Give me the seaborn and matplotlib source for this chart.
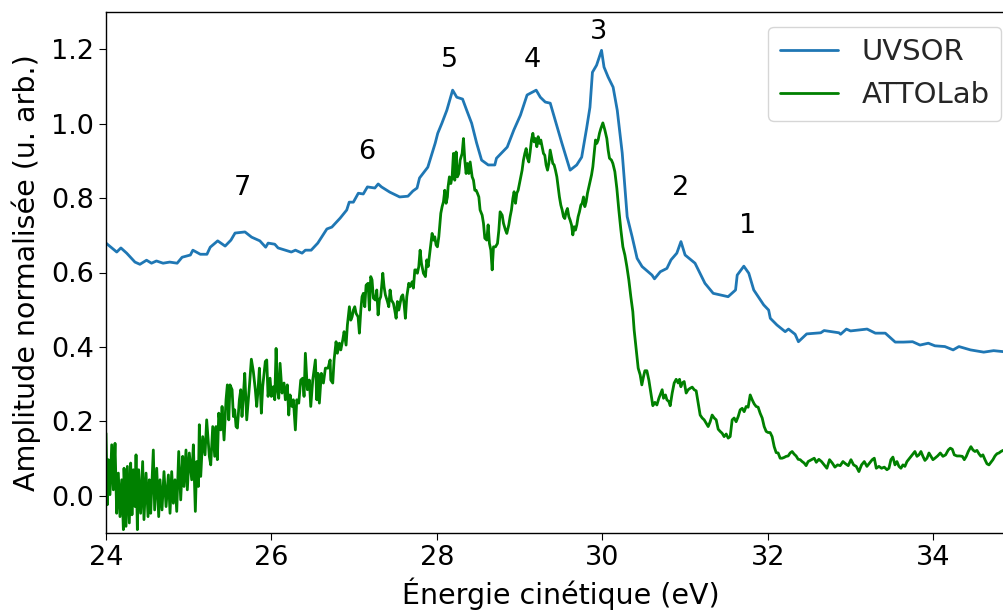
import pandas as pd
import matplotlib
matplotlib.use('Agg')
import matplotlib.pyplot as plt
import seaborn as sns

# UVSOR spectrum
uvsor_ev = [24.00, 24.13, 24.18, 24.25, 24.35, 24.41, 24.49, 24.55, 24.61, 24.69,
            24.77, 24.86, 24.92, 25.02, 25.05, 25.14, 25.22, 25.26, 25.35, 25.44,
            25.51, 25.56, 25.68, 25.76, 25.86, 25.93, 25.96, 26.04, 26.08, 26.24,
            26.29, 26.37, 26.41, 26.48, 26.56, 26.67, 26.73, 26.83, 26.91, 26.94,
            26.99, 27.05, 27.11, 27.16, 27.25, 27.29, 27.33, 27.43, 27.55, 27.65,
            27.71, 27.76, 27.79, 27.89, 27.98, 28.01, 28.06, 28.12, 28.19, 28.24,
            28.31, 28.36, 28.42, 28.48, 28.54, 28.62, 28.70, 28.72, 28.85, 28.93,
            29.01, 29.09, 29.20, 29.25, 29.31, 29.37, 29.43, 29.51, 29.61, 29.69,
            29.75, 29.81, 29.85, 29.88, 29.93, 29.99, 30.02, 30.07, 30.13, 30.18,
            30.24, 30.30, 30.36, 30.42, 30.48, 30.60, 30.63, 30.70, 30.78, 30.83,
            30.90, 30.95, 31.00, 31.12, 31.24, 31.34, 31.52, 31.61, 31.63, 31.71,
            31.77, 31.83, 31.95, 32.01, 32.03, 32.11, 32.21, 32.25, 32.33, 32.37,
            32.47, 32.64, 32.68, 32.86, 32.88, 32.95, 33.00, 33.20, 33.30, 33.42,
            33.54, 33.64, 33.75, 33.84, 33.94, 34.02, 34.14, 34.24, 34.31, 34.45,
            34.61, 34.73, 34.86]
uvsor_amp = [0.679, 0.655, 0.666, 0.652, 0.628, 0.622, 0.633, 0.625, 0.631, 0.625,
             0.628, 0.625, 0.641, 0.647, 0.660, 0.649, 0.649, 0.668, 0.685, 0.671,
             0.687, 0.706, 0.709, 0.695, 0.685, 0.668, 0.679, 0.676, 0.666, 0.655,
             0.660, 0.652, 0.660, 0.660, 0.679, 0.717, 0.722, 0.746, 0.768, 0.789,
             0.789, 0.813, 0.811, 0.830, 0.827, 0.838, 0.830, 0.816, 0.803, 0.805,
             0.819, 0.827, 0.854, 0.883, 0.948, 0.974, 1.001, 1.036, 1.090, 1.071,
             1.066, 1.036, 1.001, 0.948, 0.902, 0.889, 0.889, 0.907, 0.937, 0.983,
             1.023, 1.077, 1.090, 1.071, 1.058, 1.055, 1.009, 0.948, 0.875, 0.889,
             0.910, 0.988, 1.044, 1.138, 1.157, 1.197, 1.152, 1.125, 1.098, 1.036,
             0.921, 0.750, 0.696, 0.638, 0.616, 0.593, 0.583, 0.602, 0.611, 0.634,
             0.652, 0.683, 0.647, 0.625, 0.571, 0.544, 0.535, 0.553, 0.593, 0.617,
             0.598, 0.553, 0.513, 0.499, 0.477, 0.459, 0.441, 0.448, 0.434, 0.414,
             0.435, 0.438, 0.444, 0.438, 0.434, 0.448, 0.443, 0.448, 0.437, 0.437,
             0.413, 0.413, 0.414, 0.405, 0.410, 0.403, 0.401, 0.392, 0.401, 0.392,
             0.386, 0.390, 0.387]

# ATTOLab spectrum
attolab_ev = [
    24.000, 24.016, 24.028, 24.048, 24.069, 24.089, 24.109, 24.129, 24.149, 24.169,
    24.190, 24.210, 24.218, 24.242, 24.258, 24.282, 24.298, 24.314, 24.330, 24.351,
    24.363, 24.379, 24.395, 24.419, 24.443, 24.459, 24.484, 24.508, 24.524, 24.540,
    24.572, 24.588, 24.613, 24.637, 24.653, 24.677, 24.701, 24.726, 24.754, 24.774,
    24.794, 24.814, 24.834, 24.855, 24.879, 24.903, 24.927, 24.943, 24.967, 24.983,
    25.007, 25.036, 25.056, 25.080, 25.096, 25.116, 25.128, 25.145, 25.169, 25.197,
    25.217, 25.249,
    25.266, 25.290, 25.314, 25.330, 25.346, 25.363, 25.387, 25.403, 25.427, 25.451,
    25.467, 25.484, 25.499, 25.524, 25.540, 25.556, 25.572, 25.588, 25.612, 25.629,
    25.644, 25.660, 25.677, 25.701, 25.733, 25.757, 25.781, 25.805, 25.822, 25.838,
    25.854, 25.878, 25.894, 25.926, 25.943, 25.959, 25.983, 25.999, 26.023, 26.040,
    26.056, 26.072, 26.088, 26.104, 26.128, 26.152, 26.168, 26.192, 26.209, 26.225,
    26.249, 26.265, 26.289, 26.306, 26.330, 26.354, 26.378, 26.394, 26.410, 26.434,
    26.458, 26.475, 26.499, 26.531, 26.548, 26.563, 26.579, 26.603, 26.628, 26.652,
    26.684, 26.709,
    26.717, 26.741, 26.757, 26.781, 26.797, 26.821, 26.838, 26.862, 26.878, 26.902,
    26.918, 26.942, 26.959, 26.975, 26.990, 27.007, 27.023, 27.047, 27.063, 27.080,
    27.095, 27.111, 27.128, 27.144, 27.168, 27.184, 27.200, 27.216, 27.232, 27.256,
    27.273, 27.289, 27.305, 27.321, 27.346, 27.361, 27.377, 27.402, 27.418, 27.434,
    27.450, 27.474, 27.490, 27.507, 27.522, 27.539, 27.555, 27.571, 27.587, 27.603,
    27.619, 27.636, 27.660, 27.676, 27.700, 27.716, 27.733, 27.748, 27.764, 27.781,
    27.797, 27.813, 27.837, 27.861, 27.878, 27.894, 27.918, 27.942, 27.958, 27.974,
    27.990, 28.006, 28.023, 28.047, 28.063, 28.079, 28.095, 28.111, 28.127,
    28.135, 28.151, 28.168, 28.184, 28.200, 28.216, 28.232, 28.248, 28.265, 28.281,
    28.305, 28.321, 28.337, 28.353, 28.369, 28.386, 28.402, 28.426, 28.442, 28.458,
    28.474, 28.490, 28.507, 28.522, 28.547, 28.563, 28.579, 28.603, 28.619, 28.635,
    28.652, 28.668, 28.684, 28.708, 28.732, 28.749, 28.764, 28.789, 28.805, 28.829,
    28.845, 28.869, 28.885, 28.901, 28.918, 28.933, 28.950, 28.966, 28.982, 28.998,
    29.015, 29.030, 29.046, 29.063, 29.079, 29.095, 29.111, 29.127, 29.143, 29.160,
    29.175, 29.191, 29.208, 29.224, 29.240, 29.256, 29.272, 29.288, 29.304, 29.320,
    29.337, 29.353, 29.369, 29.385, 29.401, 29.417, 29.433, 29.450, 29.465, 29.481,
    29.498, 29.514, 29.530, 29.546, 29.562, 29.578, 29.595, 29.610, 29.627, 29.643,
    29.659, 29.675, 29.691, 29.707, 29.723, 29.740, 29.756, 29.772, 29.788, 29.804,
    29.820, 29.837, 29.852, 29.869, 29.885, 29.901, 29.917, 29.933, 29.949, 29.965,
    29.982, 30.006, 30.030, 30.054, 30.070, 30.086, 30.110, 30.127, 30.151, 30.175,
    30.199, 30.224, 30.248, 30.272, 30.296, 30.320,
    30.344, 30.368, 30.384, 30.409, 30.433, 30.457, 30.477, 30.497, 30.514, 30.538,
    30.562, 30.586, 30.610, 30.635, 30.659, 30.683, 30.707, 30.723, 30.739, 30.763,
    30.780, 30.804, 30.820, 30.844, 30.868, 30.892, 30.917, 30.933, 30.949, 30.965,
    30.989, 31.013, 31.037, 31.062, 31.086, 31.110, 31.134, 31.158, 31.182, 31.207,
    31.231, 31.255, 31.279, 31.303, 31.327, 31.352, 31.376, 31.400, 31.424, 31.448,
    31.472, 31.497, 31.521, 31.545, 31.569, 31.593, 31.617, 31.642, 31.666, 31.690,
    31.714, 31.738, 31.762, 31.787, 31.811, 31.835, 31.859, 31.883, 31.907, 31.932,
    31.956, 31.980, 32.004, 32.028, 32.052, 32.077, 32.101, 32.125, 32.149, 32.173,
    32.197, 32.222, 32.246, 32.270, 32.294, 32.318, 32.342, 32.367, 32.391, 32.415,
    32.439, 32.463, 32.487, 32.511,
    32.561, 32.586, 32.617, 32.649, 32.682, 32.714, 32.746, 32.779, 32.811, 32.843,
    32.875, 32.908, 32.940, 32.972, 33.005, 33.037, 33.069, 33.101, 33.133, 33.166,
    33.198, 33.230, 33.262, 33.287, 33.311, 33.343, 33.375, 33.408, 33.440, 33.464,
    33.488, 33.512, 33.537, 33.561, 33.585, 33.609, 33.633, 33.657, 33.682, 33.714,
    33.746, 33.778, 33.803, 33.827, 33.851, 33.875, 33.899, 33.924, 33.948, 33.972,
    33.996, 34.020, 34.052, 34.085, 34.117, 34.149, 34.181, 34.206, 34.230, 34.254,
    34.286, 34.318, 34.351, 34.375, 34.399, 34.423, 34.455, 34.480, 34.504, 34.528,
    34.552, 34.576, 34.600, 34.625, 34.649, 34.673, 34.697, 34.721, 34.746, 34.770,
    34.794, 34.818, 34.843, 34.859]
attolab_amp = [
    0.168, -0.024, 0.097, 0.003, 0.137, 0.016, 0.141, -0.047, 0.061, -0.056,
    0.043, -0.091, 0.074, -0.082, 0.079, -0.073, 0.088, -0.051, 0.070, -0.029,
    0.110, -0.091, 0.070, -0.047, 0.092, -0.064, 0.061, -0.056, 0.043, -0.047,
    0.123, -0.038, 0.074, -0.056, 0.043, -0.038, 0.065, -0.029, 0.056, -0.047,
    0.065, -0.020, 0.043, -0.042, 0.119, -0.011, 0.106, 0.025, 0.123, 0.016,
    0.115, 0.043, 0.137, -0.042, 0.092, 0.025, 0.191, 0.052, 0.159, 0.110,
    0.204, 0.106,
    0.083, 0.186, 0.106, 0.186, 0.097, 0.222, 0.177, 0.240, 0.150, 0.258,
    0.298, 0.204, 0.298, 0.285, 0.213, 0.231, 0.186, 0.182, 0.258, 0.285,
    0.213, 0.267, 0.329, 0.204, 0.293, 0.367, 0.334, 0.285, 0.240, 0.285,
    0.343, 0.222, 0.293, 0.361, 0.365, 0.267, 0.316, 0.267, 0.293, 0.258,
    0.396, 0.285, 0.262, 0.356, 0.276, 0.303, 0.258, 0.298, 0.217, 0.271,
    0.240, 0.258, 0.177, 0.258, 0.249, 0.311, 0.316, 0.267, 0.383, 0.285,
    0.311, 0.240, 0.311, 0.365, 0.258, 0.329, 0.249, 0.329, 0.303, 0.343,
    0.343, 0.365,
    0.311, 0.303, 0.365, 0.414, 0.383, 0.410, 0.392, 0.419, 0.441, 0.405,
    0.459, 0.508, 0.472, 0.481, 0.499, 0.508, 0.490, 0.481, 0.437, 0.499,
    0.535, 0.544, 0.508, 0.566, 0.571, 0.499, 0.589, 0.580, 0.531, 0.526,
    0.553, 0.486, 0.526, 0.535, 0.598, 0.562, 0.540, 0.522, 0.508, 0.553,
    0.526, 0.517, 0.499, 0.477, 0.522, 0.499, 0.517, 0.535, 0.540, 0.517,
    0.477, 0.535, 0.571, 0.562, 0.575, 0.558, 0.607, 0.607, 0.598, 0.616,
    0.660, 0.625, 0.598, 0.589, 0.634, 0.616, 0.660, 0.705, 0.687, 0.696,
    0.674, 0.669, 0.696, 0.759, 0.777, 0.790, 0.821, 0.786, 0.803,
    0.830, 0.857, 0.839, 0.857, 0.920, 0.848, 0.924, 0.857, 0.866, 0.902,
    0.920, 0.960, 0.902, 0.866, 0.893, 0.866, 0.897, 0.857, 0.848, 0.821,
    0.821, 0.813, 0.803, 0.768, 0.754, 0.732, 0.692, 0.687, 0.728, 0.678,
    0.660, 0.607, 0.669, 0.669, 0.678, 0.714, 0.763, 0.754, 0.732, 0.714,
    0.705, 0.728, 0.750, 0.768, 0.799, 0.817, 0.786, 0.813, 0.821, 0.839,
    0.857, 0.875, 0.902, 0.920, 0.933, 0.907, 0.897, 0.924, 0.956, 0.974,
    0.951, 0.960, 0.938, 0.965, 0.947, 0.956, 0.938, 0.920, 0.915, 0.889,
    0.875, 0.893, 0.929, 0.911, 0.893, 0.889, 0.875, 0.857, 0.830, 0.803,
    0.781, 0.768, 0.750, 0.745, 0.763, 0.772, 0.750, 0.741, 0.728, 0.701,
    0.723, 0.714, 0.728, 0.750, 0.763, 0.781, 0.786, 0.803, 0.777, 0.790,
    0.813, 0.830, 0.844, 0.862, 0.884, 0.920, 0.956, 0.947, 0.956, 0.974,
    0.987, 1.002, 0.983, 0.960, 0.929, 0.907, 0.902, 0.893, 0.871, 0.826,
    0.768, 0.714, 0.669, 0.647, 0.616, 0.580,
    0.535, 0.495, 0.446, 0.392, 0.343, 0.325, 0.298, 0.320, 0.336, 0.336,
    0.311, 0.276, 0.242, 0.251, 0.244, 0.262, 0.276, 0.285, 0.262, 0.271,
    0.258, 0.253, 0.242, 0.276, 0.303, 0.313, 0.303, 0.313, 0.293, 0.303,
    0.307, 0.276, 0.285, 0.289, 0.292, 0.285, 0.282, 0.249, 0.217, 0.209,
    0.204, 0.195, 0.186, 0.199, 0.217, 0.209, 0.204, 0.179, 0.173, 0.168,
    0.159, 0.166, 0.155, 0.159, 0.204, 0.209, 0.199, 0.213, 0.231, 0.235,
    0.226, 0.240, 0.238, 0.271, 0.258, 0.247, 0.240, 0.238, 0.222, 0.209,
    0.186, 0.173, 0.170, 0.170, 0.159, 0.132, 0.116, 0.115, 0.101, 0.101,
    0.103, 0.106, 0.107, 0.115, 0.119, 0.112, 0.107, 0.098, 0.097, 0.092,
    0.088, 0.081, 0.092, 0.095,
    0.101, 0.090, 0.098, 0.092, 0.083, 0.074, 0.097, 0.088, 0.077, 0.083,
    0.081, 0.092, 0.086, 0.081, 0.097, 0.083, 0.079, 0.065, 0.083, 0.092,
    0.079, 0.088, 0.097, 0.101, 0.074, 0.079, 0.074, 0.077, 0.070, 0.074,
    0.097, 0.104, 0.083, 0.092, 0.079, 0.074, 0.083, 0.079, 0.092, 0.101,
    0.110, 0.119, 0.106, 0.110, 0.119, 0.106, 0.095, 0.101, 0.115, 0.106,
    0.097, 0.101, 0.107, 0.115, 0.106, 0.110, 0.123, 0.128, 0.125, 0.110,
    0.107, 0.107, 0.106, 0.097, 0.106, 0.119, 0.132, 0.123, 0.119, 0.122,
    0.113, 0.106, 0.110, 0.097, 0.086, 0.083, 0.090, 0.097, 0.107, 0.113,
    0.115, 0.119, 0.122, 0.122]

# peak labels
peak_labels = ['7', '6', '5', '4', '3', '2', '1']
peak_ev = [25.65, 27.15, 28.15, 29.15, 29.95, 30.95, 31.75]
peak_amp = [0.827, 0.924, 1.172, 1.172, 1.247, 0.826, 0.725]

sns.set_style('ticks')
plt.rcParams['font.family'] = ['DejaVu Sans']
fs = 19.5      # ticks and peak numbers
fs_lab = 20.5  # axis labels
fs_leg = 21    # legend

df_uv = pd.DataFrame({'ev': uvsor_ev, 'amp': uvsor_amp})
df_at = pd.DataFrame({'ev': attolab_ev, 'amp': attolab_amp})

fig = plt.figure(figsize=(10.04, 6.11), dpi=100)
# the original picture was cropped on the right: the axes run a bit past the edge
ax = fig.add_axes([106 / 1004, 78 / 611, 910 / 1004, 521 / 611])

sns.lineplot(data=df_uv, x='ev', y='amp', ax=ax, color='#1f77b4', linewidth=2,
             estimator=None, sort=False, label='UVSOR')
sns.lineplot(data=df_at, x='ev', y='amp', ax=ax, color='green', linewidth=2,
             estimator=None, sort=False, label='ATTOLab')

for lab, xv, yv in zip(peak_labels, peak_ev, peak_amp):
    ax.text(xv, yv, lab, fontsize=fs, ha='center', va='center', color='black')

ax.set_xlim(24, 35)
ax.set_ylim(-0.1, 1.3)
ax.set_xticks([24, 26, 28, 30, 32, 34])
ax.set_yticks([0.0, 0.2, 0.4, 0.6, 0.8, 1.0, 1.2])
ax.set_yticklabels(['0.0', '0.2', '0.4', '0.6', '0.8', '1.0', '1.2'])
ax.tick_params(labelsize=fs, colors='black', length=5)
for sp in ax.spines.values():
    sp.set_color('black')
    sp.set_linewidth(1.0)
ax.set_xlabel('Énergie cinétique (eV)', fontsize=fs_lab, color='black', labelpad=5)
ax.set_ylabel('Amplitude normalisée (u. arb.)', fontsize=fs_lab, color='black', labelpad=7)
ax.legend(loc='upper right', fontsize=fs_leg, frameon=True)

fig.savefig('out.png', dpi=100)
